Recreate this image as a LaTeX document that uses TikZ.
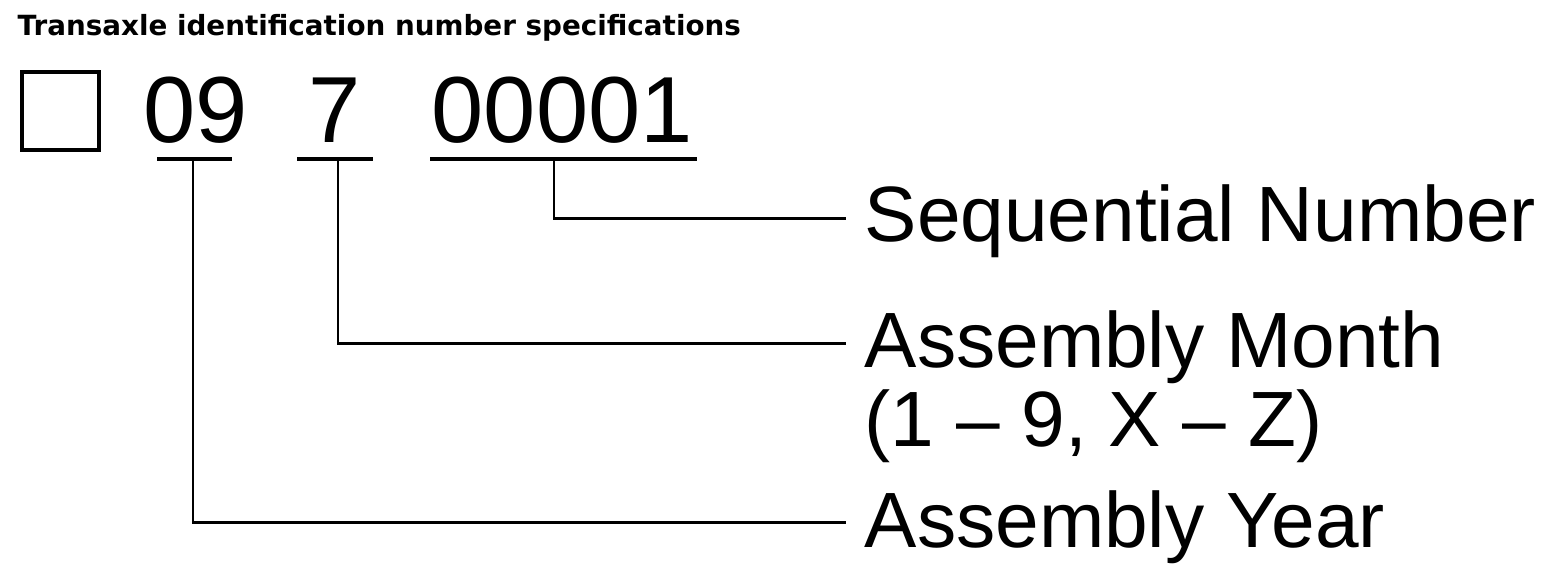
\documentclass[tikz,border=0pt]{standalone}
\usepackage{fontspec}
\setmainfont{Liberation Sans}
\newfontfamily\headfont{DejaVu Sans}
\usetikzlibrary{positioning}

\begin{document}
\begin{tikzpicture}[x=0.01cm, y=-0.01cm,
    digits/.style={inner sep=0, anchor=base west, font=\fontsize{26.7}{32}\selectfont},
    fieldname/.style={inner sep=0, anchor=base west, font=\fontsize{22.3}{26}\selectfont},
    bar/.style={line width=1.3pt},
    lead/.style={line width=0.85pt}]

    \useasboundingbox (0,0) rectangle (1568,572);

    \node[inner sep=0, anchor=base west, font=\headfont\bfseries\fontsize{7.9}{9}\selectfont] (title) at (17,35) {Transaxle identification number specifications};

    % check box and the three fields
    \node[draw, line width=1.14pt, minimum width=0.77cm, minimum height=0.78cm, inner sep=0] (chk) at (60.5,111) {};
    \node[digits] (yr) at (143,142) {09};
    \node[digits] (mo) at (307.5,142) {7};
    \node[digits] (seq) at (431,142) {00001};

    \coordinate (yrA) at (157,159);  \coordinate (yrB) at (232,159);
    \coordinate (moA) at (297,159);  \coordinate (moB) at (373,159);
    \coordinate (seqA) at (430,159); \coordinate (seqB) at (697,159);
    \draw[bar] (yrA) -- (yrB);
    \draw[bar] (moA) -- (moB);
    \draw[bar] (seqA) -- (seqB);

    \coordinate (yrT) at (193,159);
    \coordinate (moT) at (338,159);
    \coordinate (seqT) at (554,159);
    \coordinate (seqE) at (846,218);
    \coordinate (moE) at (846,343);
    \coordinate (yrE) at (846,522);

    \node[fieldname] (seqlab) at (864,241) {Sequential Number};
    \node[fieldname] (molab) at (864,367) {Assembly Month};
    \node[fieldname] (morange) at (864,446) {(1 – 9, X – Z)};
    \node[fieldname] (yrlab) at (864,547) {Assembly Year};

    \draw[lead] (seqT) |- (seqE);
    \draw[lead] (moT) |- (moE);
    \draw[lead] (yrT) |- (yrE);

\end{tikzpicture}
\end{document}
